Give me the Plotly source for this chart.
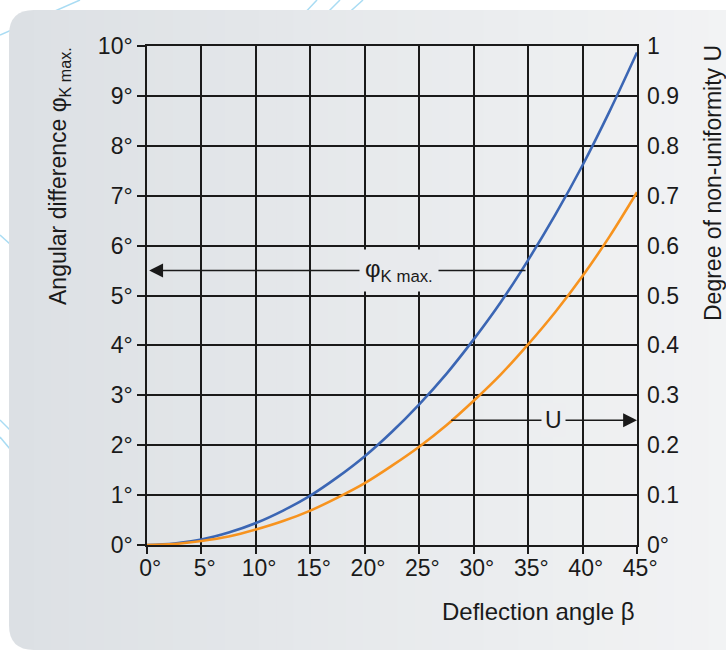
import plotly.graph_objects as go

# ---------------- data ----------------
beta = [0, 2.5, 5, 7.5, 10, 12.5, 15, 17.5, 20, 22.5, 25, 27.5, 30, 32.5, 35, 37.5, 40, 42.5, 45]
phi_kmax = [0, 0.03, 0.11, 0.25, 0.44, 0.69, 0.99, 1.36, 1.78, 2.27, 2.82, 3.43, 4.12,
            4.87, 5.71, 6.62, 7.61, 8.70, 9.87]
u_vals = [0, 0.002, 0.008, 0.017, 0.031, 0.048, 0.069, 0.095, 0.124, 0.159, 0.197, 0.240,
          0.289, 0.342, 0.402, 0.467, 0.539, 0.619, 0.707]

x_ticks = [0, 5, 10, 15, 20, 25, 30, 35, 40, 45]
x_ticktext = ["\u00a00°", "\u00a05°", "\u00a010°", "\u00a015°", "\u00a020°", "\u00a025°",
              "\u00a030°", "\u00a035°", "\u00a040°", "\u00a045°"]
y_ticks = [0, 1, 2, 3, 4, 5, 6, 7, 8, 9, 10]
y_ticktext = ["0°", "1°", "2°", "3°", "4°", "5°", "6°", "7°", "8°", "9°", "10°"]
y2_ticks = [0, 0.1, 0.2, 0.3, 0.4, 0.5, 0.6, 0.7, 0.8, 0.9, 1.0]
y2_ticktext = ["0°", "0.1", "0.2", "0.3", "0.4", "0.5", "0.6", "0.7", "0.8", "0.9", "1"]

# ---------------- layout geometry ----------------
W, H = 726, 651
L, R, T, B = 147, 637, 46, 545
PW, PH = R - L, B - T


def px(x):
    return (x - L) / PW


def py(y):
    return (B - y) / PH


FONT = "Liberation Sans, Arial, Helvetica, sans-serif"
INK = "#1a1a1a"
BLUE = "#3b66b4"
ORANGE = "#f7931e"

c0 = (220, 224, 228)
c1 = (242, 243, 244)


def grad(xpix):
    t = min(max((xpix - 9) / (W - 9), 0), 1)
    return "rgb(%d,%d,%d)" % tuple(round(a + (b - a) * t) for a, b in zip(c0, c1))


fig = go.Figure()
fig.add_trace(go.Scatter(x=beta, y=phi_kmax, mode="lines", line=dict(color=BLUE, width=2.6, shape="spline"),
                         name="φK max.", hoverinfo="skip"))
fig.add_trace(go.Scatter(x=beta, y=u_vals, mode="lines", line=dict(color=ORANGE, width=2.6, shape="spline"),
                         name="U", yaxis="y2", hoverinfo="skip"))

shapes = []
# decorative light-blue lines (behind the panel)
deco = [((0, 35), (80, 0)), ((300, 18), (317, 0)), ((322, 18), (340, 0)), ((343, 18), (363, 0)),
        ((0, 235), (30, 262)), ((0, 420), (30, 450)), ((0, 437), (30, 473))]
for (x0, y0), (x1, y1) in deco:
    shapes.append(dict(type="line", xref="paper", yref="paper", x0=px(x0), y0=py(y0), x1=px(x1), y1=py(y1),
                       line=dict(color="#a9dcf3", width=1.5), layer="below"))
# rounded left part of the panel
pts = [("M", 40, 10), ("L", 34, 10), ("Q", 9, 10, 9, 35), ("L", 9, 625), ("Q", 9, 650, 34, 650),
       ("L", 40, 650)]
path = ""
for p in pts:
    if p[0] == "Q":
        path += "Q %.5f,%.5f %.5f,%.5f " % (px(p[1]), py(p[2]), px(p[3]), py(p[4]))
    else:
        path += "%s %.5f,%.5f " % (p[0], px(p[1]), py(p[2]))
path += "Z"
shapes.append(dict(type="path", xref="paper", yref="paper", path=path, fillcolor=grad(20),
                   line=dict(width=0), layer="below"))
# gradient strips
n = 40
x_start = 34
step = (W - x_start) / n
for i in range(n):
    xa = x_start + i * step
    xb = xa + step + 1
    shapes.append(dict(type="rect", xref="paper", yref="paper", x0=px(xa), x1=px(xb), y0=py(650), y1=py(10),
                       fillcolor=grad(xa + step / 2), line=dict(width=0), layer="below"))

annotations = [
    # phi arrow
    dict(x=0.2, y=5.5, ax=34.9, ay=5.5, xref="x", yref="y", axref="x", ayref="y", text="",
         showarrow=True, arrowhead=2, arrowsize=1.85, arrowwidth=1.5, arrowcolor=INK, standoff=0),
    # U arrow
    dict(x=45, y=2.5, ax=27.8, ay=2.5, xref="x", yref="y", axref="x", ayref="y", text="",
         showarrow=True, arrowhead=2, arrowsize=1.85, arrowwidth=1.5, arrowcolor=INK, standoff=0),
    # labels with background boxes
    dict(x=px(399), y=5.5, xref="paper", yref="y", text="φ<sub>K max.</sub>", showarrow=False,
         font=dict(family=FONT, size=24, color=INK), bgcolor=grad(400), borderpad=5, xanchor="center",
         yanchor="middle"),
    dict(x=px(553), y=2.5, xref="paper", yref="y", text="U", showarrow=False,
         font=dict(family=FONT, size=23, color=INK), bgcolor=grad(553), borderpad=3, xanchor="center",
         yanchor="middle"),
    # axis titles
    dict(x=1.0, y=py(611), xref="paper", yref="paper", text="Deflection angle β", showarrow=False,
         font=dict(family=FONT, size=24, color=INK), xanchor="right", yanchor="middle"),
    dict(x=px(59), y=py(45), xref="paper", yref="paper", text="Angular difference φ<sub>K max.</sub>",
         showarrow=False, textangle=-90, font=dict(family=FONT, size=23, color=INK),
         xanchor="center", yanchor="top"),
    dict(x=px(713), y=py(43), xref="paper", yref="paper", text="Degree of non-uniformity U",
         showarrow=False, textangle=-90, font=dict(family=FONT, size=23, color=INK),
         xanchor="center", yanchor="top"),
]

axis_common = dict(showgrid=True, gridcolor=INK, gridwidth=1.5, zeroline=False, showline=True,
                   linecolor=INK, linewidth=1.5, mirror=True, tickcolor=INK, tickwidth=1.5,
                   tickfont=dict(family=FONT, size=23, color=INK), fixedrange=True)

fig.update_layout(
    width=W, height=H,
    margin=dict(l=L, r=W - R, t=T, b=H - B, pad=0),
    paper_bgcolor="white",
    plot_bgcolor="rgba(0,0,0,0)",
    showlegend=False,
    font=dict(family=FONT, color=INK),
    xaxis=dict(range=[0, 45], tickmode="array", tickvals=x_ticks, ticktext=x_ticktext,
               ticks="outside", ticklen=7, ticklabelstandoff=-5, **axis_common),
    yaxis=dict(range=[0, 10], tickmode="array", tickvals=y_ticks, ticktext=y_ticktext,
               ticks="outside", ticklen=8, **axis_common),
    yaxis2=dict(range=[0, 1], overlaying="y", side="right", tickmode="array", tickvals=y2_ticks,
                ticktext=y2_ticktext, showgrid=False, zeroline=False, showline=False, ticks="",
                ticklabelstandoff=9, tickfont=dict(family=FONT, size=23, color=INK), fixedrange=True),
    shapes=shapes,
    annotations=annotations,
)

fig.write_html("out.html", config={"displayModeBar": False},
               post_script="document.body.style.margin='0';document.body.style.padding='0';"
                           "document.documentElement.style.overflow='hidden';")
